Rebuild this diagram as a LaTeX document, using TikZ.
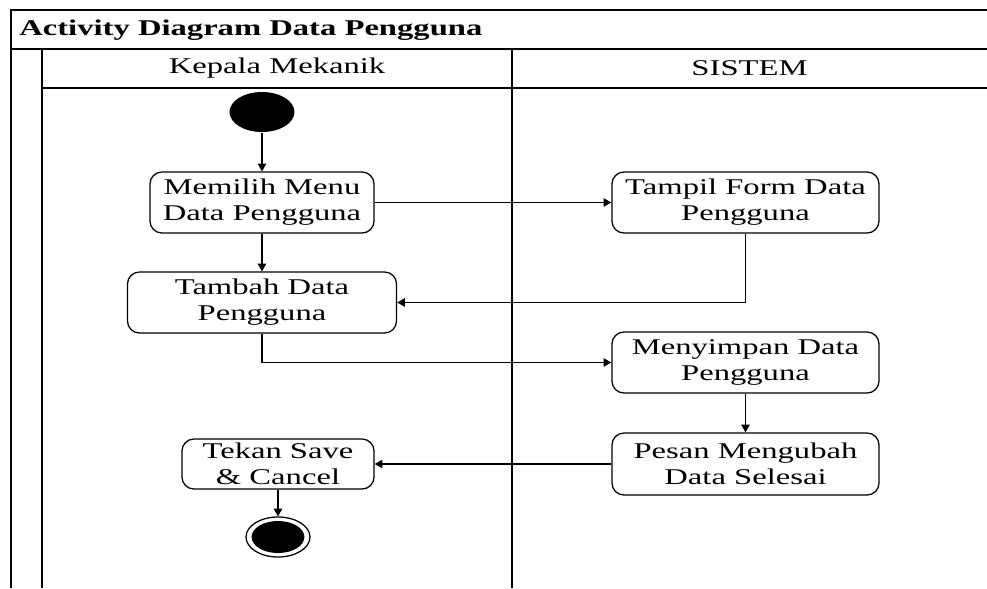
\documentclass[tikz,border=0pt]{standalone}
\usepackage{fontspec}
\setmainfont[FakeStretch=1.45]{Liberation Serif}
\usetikzlibrary{arrows.meta,shapes.geometric}

\tikzset{
  act/.style={draw, rounded corners=0.3cm, align=center, inner sep=0pt,
    minimum width=6.675cm, minimum height=1.525cm,
    font=\fontsize{16}{18.5}\selectfont},
  flow/.style={-{Triangle[length=5.5pt,width=6pt]}},
  lanetext/.style={font=\fontsize{16}{18}\selectfont}
}

\begin{document}
\begin{tikzpicture}[x=0.025cm, y=-0.025cm, line width=0.9pt]
		\useasboundingbox (0,0) rectangle (987,588);
		\draw (11,588) to (11,10) to (987,10); % pool
		\draw (11,49) to (987,49); % title line
		\draw (42,88) to (987,88); % lane heads
		\draw (42,49) to (42,588);
		\draw (512,49) to (512,588); % divider

		\node [anchor=west, font=\fontsize{16}{18}\selectfont\bfseries] (title) at (14,30) {Activity Diagram Data Pengguna};
		\node [lanetext] (kepala) at (277,68.5) {Kepala Mekanik};
		\node [lanetext] (sistem) at (749.5,68.5) {SISTEM};

		\node [ellipse, fill, minimum width=1.625cm, minimum height=1cm, inner sep=0pt] (start) at (262,112) {};
		\node [act, minimum width=5.6cm] (memilih) at (262,202.5) {Memilih Menu\\Data Pengguna};
		\node [act] (tampil) at (745.5,202.5) {Tampil Form Data\\Pengguna};
		\node [act, minimum width=6.725cm] (tambah) at (262,302.5) {Tambah Data\\Pengguna};
		\node [act] (menyimpan) at (745.5,362.5) {Menyimpan Data\\Pengguna};
		\node [act, minimum height=1.55cm] (pesan) at (745.5,464) {Pesan Mengubah\\Data Selesai};
		\node [act, minimum width=4.8cm, minimum height=1.25cm] (tekan) at (278,464) {Tekan Save\\\& Cancel};
		\node [ellipse, draw, minimum width=1.6cm, minimum height=1cm, inner sep=0pt] (stop) at (278,537) {};
		\fill (stop.center) ellipse [x radius=0.66cm, y radius=0.4cm];

		\draw [flow] (start) to (memilih);
		\draw [flow] (memilih) to (tampil);
		\draw [flow] (memilih) to (tambah);
		\draw [flow] (tampil.south) |- (tambah.east);
		\draw [flow] (tambah.south) |- (menyimpan.west);
		\draw [flow] (menyimpan) to (pesan);
		\draw [flow] (pesan) to (tekan);
		\draw [flow] (tekan) to (stop);
\end{tikzpicture}
\end{document}
